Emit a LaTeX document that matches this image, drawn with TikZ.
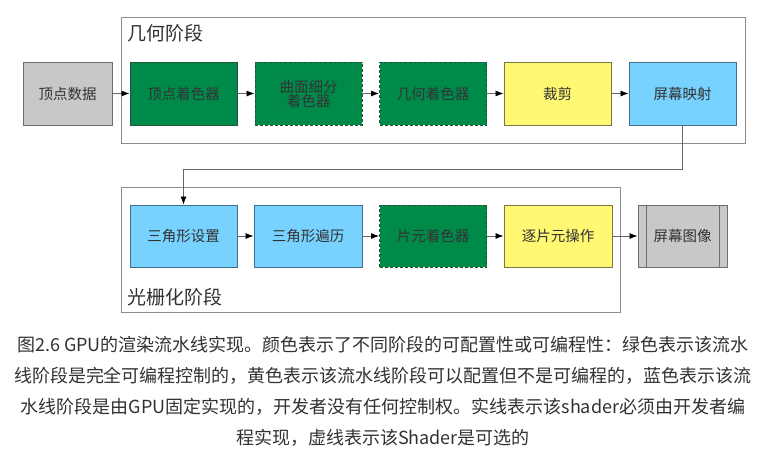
\documentclass[tikz,border=0pt]{standalone}
\usepackage{fontspec}
\setmainfont{Noto Sans CJK SC}
\usetikzlibrary{arrows.meta}
\definecolor{gfill}{RGB}{0,138,74}
\definecolor{gline}{RGB}{40,80,55}
\definecolor{yfill}{RGB}{255,248,115}
\definecolor{yline}{RGB}{120,120,70}
\definecolor{bfill}{RGB}{120,210,255}
\definecolor{bline}{RGB}{70,110,140}
\definecolor{grfill}{RGB}{200,200,200}
\definecolor{grline}{RGB}{110,110,110}
\definecolor{frame}{RGB}{140,140,140}
\definecolor{txt}{RGB}{50,50,50}
\tikzset{
  box/.style={draw, line width=0.9pt, minimum height=63pt, minimum width=107pt, inner sep=0pt, align=center,
    text=txt, font=\fontsize{14.5}{16}\selectfont},
  greenbox/.style={box, fill=gfill, draw=gline, text=black!80},
  optbox/.style={greenbox, dash pattern=on 3pt off 2pt},
  yellowbox/.style={box, fill=yfill, draw=yline},
  bluebox/.style={box, fill=bfill, draw=bline},
  graybox/.style={box, fill=grfill, draw=grline, minimum width=89pt},
  stageframe/.style={draw=frame, line width=0.9pt},
  stagetitle/.style={anchor=west, inner sep=0pt, text=txt, font=\fontsize{19}{21}\selectfont},
  arr/.style={draw=black!60, line width=0.8pt, -{Latex[length=8pt,width=6pt,color=black]}},
  captiontext/.style={align=center, text=txt, font=\fontsize{18}{31}\selectfont, inner sep=0pt}
}
\begin{document}
\begin{tikzpicture}[x=1pt,y=-1pt]
\useasboundingbox[fill=white] (0,0) rectangle (772,451);
% stage frames
\draw[stageframe] (121,17) rectangle (745,143);
\draw[stageframe] (121,187) rectangle (620,312);
\node[stagetitle] (geotitle) at (127,33) {几何阶段};
\node[stagetitle] (rastitle) at (127,297) {光栅化阶段};
% row 1
\node[graybox] (vd) at (67.5,93.5) {顶点数据};
\node[greenbox] (vs) at (183.5,93.5) {顶点着色器};
\node[optbox] (ts) at (308.5,93.5) {曲面细分\\[-2pt]着色器};
\node[optbox] (gs) at (433,93.5) {几何着色器};
\node[yellowbox] (clip) at (557.5,93.5) {裁剪};
\node[bluebox] (sm) at (682.5,93.5) {屏幕映射};
% row 2
\node[bluebox, minimum height=62pt] (tsu) at (183.5,236) {三角形设置};
\node[bluebox, minimum height=62pt, minimum width=108pt] (ttr) at (308,236) {三角形遍历};
\node[optbox, minimum height=62pt] (fs) at (433,236) {片元着色器};
\node[yellowbox, minimum height=62pt, minimum width=108pt] (pfo) at (558,236) {逐片元操作};
\node[graybox, minimum height=62pt] (si) at (682.5,236) {屏幕图像};
\draw[grline, line width=0.9pt] ([xshift=9pt]si.north west) -- ([xshift=9pt]si.south west);
\draw[grline, line width=0.9pt] ([xshift=-8pt]si.north east) -- ([xshift=-8pt]si.south east);
% connectors
\draw[arr] (vd) -- (vs);
\draw[arr] (vs) -- (ts);
\draw[arr] (ts) -- (gs);
\draw[arr] (gs) -- (clip);
\draw[arr] (clip) -- (sm);
\draw[arr] (sm.south) -- ++(0,44) -| (tsu.north);
\draw[arr] (tsu) -- (ttr);
\draw[arr] (ttr) -- (fs);
\draw[arr] (fs) -- (pfo);
\draw[arr] (pfo) -- (si);
% caption
\node[captiontext] (cap) at (383,391) {图2.6 GPU的渲染流水线实现。颜色表示了不同阶段的可配置性或可编程性：绿色表示该流水\\
线阶段是完全可编程控制的，黄色表示该流水线阶段可以配置但不是可编程的，蓝色表示该流\\
水线阶段是由GPU固定实现的，开发者没有任何控制权。实线表示该shader必须由开发者编\\
程实现，虚线表示该Shader是可选的};
\end{tikzpicture}
\end{document}
